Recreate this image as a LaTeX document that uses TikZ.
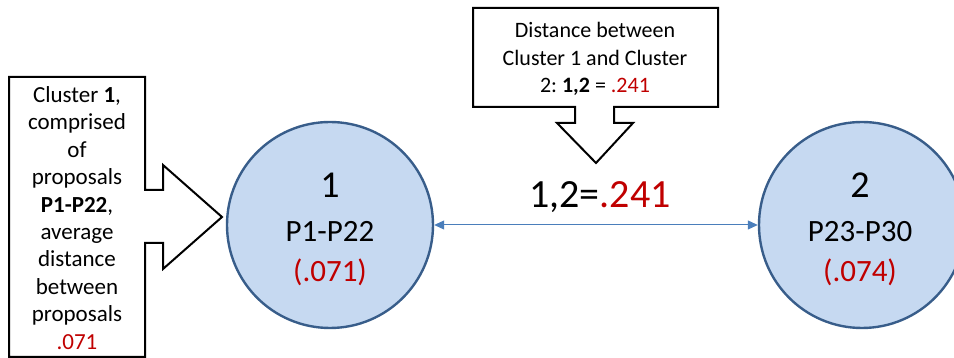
\documentclass[tikz,border=0pt]{standalone}
\usepackage{fontspec}
\setmainfont{Carlito}
\frenchspacing
\usetikzlibrary{arrows.meta}
\definecolor{cfill}{RGB}{198,217,241}
\definecolor{cdraw}{RGB}{56,93,138}
\definecolor{carrow}{RGB}{74,126,187}
\definecolor{cred}{RGB}{192,0,0}
\begin{document}
\begin{tikzpicture}[x=1pt,y=1pt,
  cluster/.style={circle,draw=cdraw,fill=cfill,line width=2.4pt,minimum size=206pt,inner sep=0pt},
  callout/.style={draw=black,line width=2pt,fill=white,line join=miter},
  bigtxt/.style={font=\fontsize{38}{44}\selectfont,anchor=base,inner sep=0pt},
  midtxt/.style={font=\fontsize{31}{37}\selectfont,anchor=base,inner sep=0pt},
  notetxt/.style={font=\fontsize{22}{27.4}\selectfont,align=center,inner sep=0pt}]
\useasboundingbox (0,0) rectangle (954,358);
% clusters
\node[cluster] (c1) at (330,133) {};
\node[cluster] (c2) at (862,133) {};
\node[bigtxt] (n1) at (330,160) {1};
\node[midtxt] (p1) at (330,116) {P1-P22};
\node[midtxt,text=cred] (d1) at (330,76) {(.071)};
\node[bigtxt] (n2) at (860,160) {2};
\node[midtxt] (p2) at (860,116) {P23-P30};
\node[midtxt,text=cred] (d2) at (860,76) {(.074)};
% distance arrow
\draw[carrow,line width=1pt,{Triangle[length=10pt,width=9pt]}-{Triangle[length=10pt,width=9pt]}] (c1.east) -- (c2.west);
\node[font=\fontsize{40}{48}\selectfont,anchor=base,inner sep=0pt] (dist) at (600,150) {1,2=\textcolor{cred}{.241}};
% top callout
\draw[callout] (473,350) -- (718,350) -- (718,251) -- (614,251) -- (614,235) -- (633,235) -- (596,195)
  -- (557,235) -- (575,235) -- (575,251) -- (473,251) -- cycle;
\node[notetxt] (topnote) at (595,299) {Distance between\\Cluster 1 and Cluster\\2: \textbf{1,2} = \textcolor{cred}{.241}};
% left callout
\draw[callout] (9,281) -- (145,281) -- (145,168) -- (163,168) -- (163,193) -- (222,141) -- (163,89)
  -- (163,115) -- (145,115) -- (145,1) -- (9,1) -- cycle;
\node[notetxt,font=\fontsize{23}{27.4}\selectfont] (leftnote) at (77,140) {Cluster \textbf{1},\\comprised\\of\\proposals\\\textbf{P1-P22},\\average\\distance\\between\\proposals\\\textcolor{cred}{.071}};
\end{tikzpicture}
\end{document}
